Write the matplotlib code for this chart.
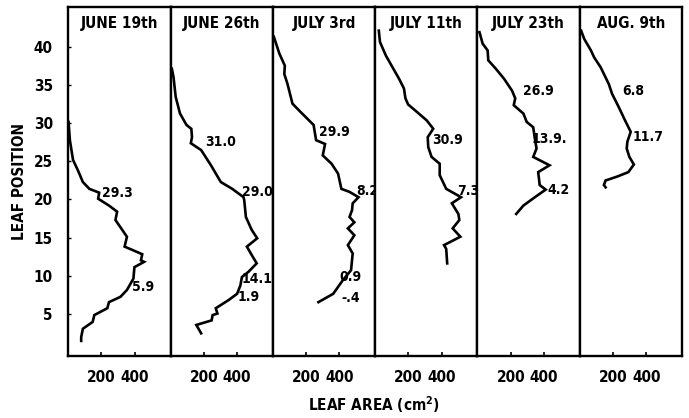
import matplotlib
matplotlib.use("Agg")
import matplotlib.pyplot as plt

plt.rcParams['font.family'] = ['DejaVu Sans']
plt.rcParams['font.weight'] = 'bold'
plt.rcParams['font.stretch'] = 'condensed'

dates = ["JUNE 19th", "JUNE 26th", "JULY 3rd", "JULY 11th", "JULY 23th", "AUG. 9th"]

# leaf area (cm2) vs leaf position, top leaf first
area_jun19 = [2, 10, 29, 59, 88, 127, 186, 180, 245, 294, 284, 353, 339, 382, 445,
              437, 456, 398, 392, 353, 314, 245, 235, 157, 147, 88, 78, 78]
pos_jun19 = [30.2, 27.8, 25.2, 23.8, 22.3, 21.4, 20.9, 20.1, 19.2, 18.4, 17.3, 15.1,
             13.8, 13.4, 12.8, 12.0, 11.8, 11.1, 9.6, 8.1, 7.2, 6.5, 5.7, 4.8, 3.9,
             3.0, 1.9, 1.4]

area_jun26 = [8, 18, 31, 57, 96, 125, 129, 122, 184, 243, 302, 371, 439, 443, 453,
              488, 521, 459, 488, 518, 469, 429, 420, 400, 351, 272, 282, 253, 247,
              155, 184]
pos_jun26 = [37.2, 36.1, 33.5, 31.3, 29.8, 29.3, 28.2, 27.4, 26.5, 24.5, 22.3, 21.4,
             20.3, 19.9, 17.7, 16.0, 14.9, 13.8, 12.7, 11.6, 10.5, 9.8, 8.7, 7.6, 6.8,
             5.7, 5.0, 4.8, 4.1, 3.5, 2.4]

area_jul3 = [6, 39, 72, 69, 88, 118, 167, 245, 260, 314, 300, 353, 392, 412, 461,
             515, 480, 476, 461, 490, 451, 490, 451, 480, 470, 421, 392, 363, 274]
pos_jul3 = [41.4, 39.2, 37.6, 36.5, 35.2, 32.6, 31.5, 29.8, 27.8, 27.3, 25.8, 24.7,
            23.4, 21.4, 21.0, 20.3, 19.5, 18.6, 17.7, 17.0, 16.2, 15.3, 14.0, 12.9,
            10.7, 9.4, 8.5, 7.6, 6.5]

area_jul11 = [22, 29, 65, 104, 143, 173, 182, 198, 241, 310, 349, 316, 319, 339, 388,
              388, 427, 476, 516, 461, 500, 506, 466, 512, 414, 427, 433]
pos_jul11 = [42.2, 40.7, 38.9, 37.4, 35.9, 34.6, 33.3, 32.5, 31.7, 30.4, 29.3, 28.2,
             26.9, 25.6, 24.7, 23.2, 21.4, 20.8, 20.3, 19.5, 18.1, 17.3, 16.2, 15.1,
             14.0, 13.5, 11.6]

area_jul23 = [12, 31, 61, 65, 110, 159, 208, 227, 218, 276, 296, 335, 345, 355, 335,
              433, 365, 374, 410, 345, 276, 233]
pos_jul23 = [42.0, 40.5, 39.6, 38.3, 37.2, 35.9, 34.3, 33.3, 32.4, 31.3, 30.2, 29.5,
             28.0, 26.7, 25.6, 24.5, 23.6, 21.9, 21.3, 20.3, 19.2, 18.1]

area_aug9 = [8, 27, 67, 86, 125, 174, 194, 233, 272, 306, 286, 282, 298, 325, 292,
             223, 155, 145, 155]
pos_aug9 = [42.2, 41.1, 39.6, 38.7, 37.4, 35.2, 33.9, 32.2, 30.4, 28.9, 27.6, 26.7,
            25.6, 24.6, 23.6, 23.0, 22.5, 21.9, 21.6]

areas = [area_jun19, area_jun26, area_jul3, area_jul11, area_jul23, area_aug9]
positions = [pos_jun19, pos_jun26, pos_jul3, pos_jul11, pos_jul23, pos_aug9]

# numbers written beside each curve
note_text = [["29.3", "5.9"],
             ["31.0", "29.0", "14.1", "1.9"],
             ["29.9", "8.2", "0.9", "-.4"],
             ["30.9", "7.3"],
             ["26.9", "13.9.", "4.2"],
             ["6.8", "11.7"]]
note_area = [[298, 451],
             [302, 521, 519, 472],
             [372, 568, 466, 466],
             [433, 560],
             [369, 429, 486],
             [321, 410]]
note_pos = [[20.9, 8.5],
            [27.6, 21.0, 9.6, 7.2],
            [28.9, 21.1, 9.8, 7.0],
            [27.8, 21.1],
            [34.3, 28.0, 21.2],
            [34.3, 28.2]]

x_ticks = [200, 400]
y_ticks = [5, 10, 15, 20, 25, 30, 35, 40]

fig, axes = plt.subplots(1, 6, sharey=True, figsize=(6.89, 4.18), dpi=100)
fig.subplots_adjust(left=0.099, right=0.990, top=0.983, bottom=0.148, wspace=0)

for i, ax in enumerate(axes):
    ax.plot(areas[i], positions[i], color='black', linewidth=1.9, solid_joinstyle='miter')
    for t, xa, ya in zip(note_text[i], note_area[i], note_pos[i]):
        ax.text(xa, ya, t, ha='center', va='center', fontsize=10, fontweight='bold')
    ax.text(0.5, 0.954, dates[i], transform=ax.transAxes, ha='center', va='center',
            fontsize=11, fontweight='bold')
    ax.set_xlim(0, 615)
    ax.set_ylim(-0.6, 45.3)
    ax.set_xticks(x_ticks)
    ax.set_xticklabels([str(v) for v in x_ticks])
    ax.tick_params(axis='x', direction='in', length=3, width=1.2, pad=10, labelsize=11)
    ax.tick_params(axis='y', direction='in', length=2, width=1.0, pad=11, labelsize=11)
    for s in ax.spines.values():
        s.set_linewidth(1.7)

axes[0].set_yticks(y_ticks)
for ax in axes[1:]:
    ax.tick_params(axis='y', length=0)

fig.text(0.029, 0.566, "LEAF POSITION", rotation=90, ha='center', va='center',
         fontsize=11, fontweight='bold')
fig.text(0.543, 0.031, r"LEAF AREA (cm$^{\mathbf{2}}$)", ha='center', va='center',
         fontsize=11, fontweight='bold')

fig.savefig("out.png", dpi=100)
